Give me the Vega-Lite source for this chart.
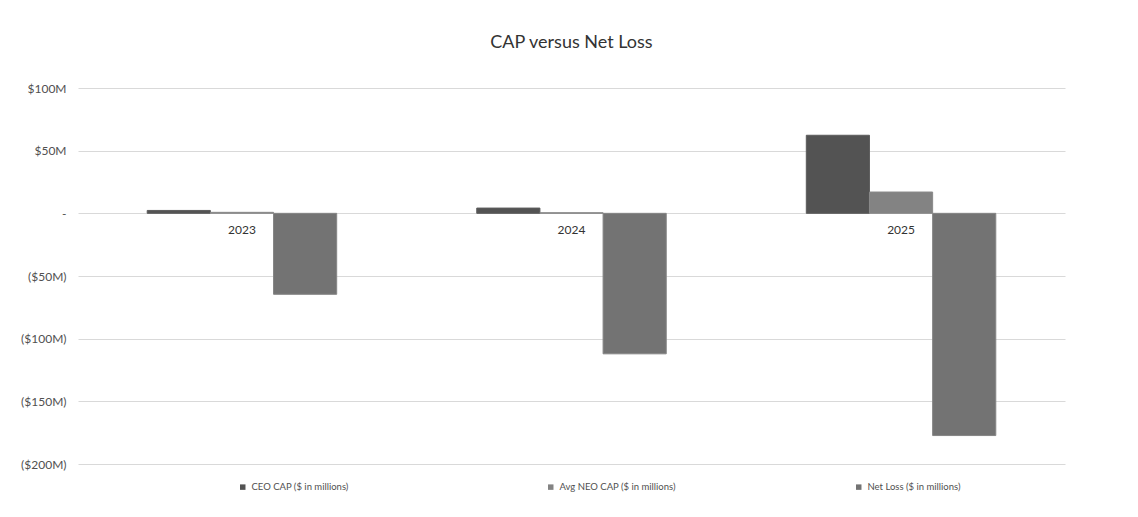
{
  "$schema": "https://vega.github.io/schema/vega-lite/v6.json",
  "autosize": {"type": "none"},
  "width": 987,
  "height": 376,
  "padding": {"left": 78, "top": 88, "right": 73, "bottom": 53},
  "background": "white",
  "config": {
    "font": "Lato",
    "view": {"stroke": null},
    "axis": {"labelFont": "Lato", "labelColor": "#505050"}
  },
  "title": {
    "text": "CAP versus Net Loss",
    "fontSize": 18,
    "fontWeight": "normal",
    "color": "#333333",
    "font": "Lato",
    "anchor": "middle",
    "offset": 30
  },
  "data": {
    "values": [
      {"year": "2023", "series": "CEO CAP ($ in millions)", "value": 2.3},
      {"year": "2023", "series": "Avg NEO CAP ($ in millions)", "value": 0.8},
      {"year": "2023", "series": "Net Loss ($ in millions)", "value": -64.6},
      {"year": "2024", "series": "CEO CAP ($ in millions)", "value": 4.2},
      {"year": "2024", "series": "Avg NEO CAP ($ in millions)", "value": 0.5},
      {"year": "2024", "series": "Net Loss ($ in millions)", "value": -112.1},
      {"year": "2025", "series": "CEO CAP ($ in millions)", "value": 62.3},
      {"year": "2025", "series": "Avg NEO CAP ($ in millions)", "value": 17.0},
      {"year": "2025", "series": "Net Loss ($ in millions)", "value": -177.3}
    ]
  },
  "encoding": {
    "x": {
      "field": "year",
      "type": "nominal",
      "axis": null,
      "scale": {"paddingInner": 0.425, "paddingOuter": 0.21}
    }
  },
  "layer": [
    {
      "mark": {"type": "bar", "strokeWidth": 1},
      "encoding": {
        "xOffset": {
          "field": "series",
          "type": "nominal",
          "sort": ["CEO CAP ($ in millions)", "Avg NEO CAP ($ in millions)", "Net Loss ($ in millions)"],
          "scale": {"paddingInner": 0, "paddingOuter": 0}
        },
        "y": {
          "field": "value",
          "type": "quantitative",
          "scale": {"domain": [-200, 100], "nice": false},
          "axis": {
            "title": null,
            "values": [-200, -150, -100, -50, 0, 50, 100],
            "labelExpr": "datum.value == 0 ? '-' : (datum.value > 0 ? '$' + datum.value + 'M' : '($' + (-datum.value) + 'M)')",
            "labelFontSize": 12,
            "labelPadding": 12,
            "ticks": false,
            "domain": false,
            "grid": true,
            "gridColor": "#d9d9d9",
            "gridWidth": 1
          }
        },
        "color": {
          "field": "series",
          "type": "nominal",
          "sort": ["CEO CAP ($ in millions)", "Avg NEO CAP ($ in millions)", "Net Loss ($ in millions)"],
          "scale": {
            "domain": ["CEO CAP ($ in millions)", "Avg NEO CAP ($ in millions)", "Net Loss ($ in millions)"],
            "range": ["#535353", "#838383", "#737373"]
          },
          "legend": {
            "title": null,
            "orient": "none",
            "direction": "horizontal",
            "legendX": 160,
            "legendY": 394,
            "symbolType": "square",
            "symbolSize": 30,
            "symbolStrokeWidth": 0,
            "labelFontSize": 9.5,
            "labelColor": "#505050",
            "labelOffset": 4,
            "gridAlign": "all",
            "columnPadding": 178
          }
        },
        "stroke": {
          "field": "series",
          "type": "nominal",
          "scale": {
            "domain": ["CEO CAP ($ in millions)", "Avg NEO CAP ($ in millions)", "Net Loss ($ in millions)"],
            "range": ["#5c5c5c", "#8a8a8a", "#858585"]
          },
          "legend": null
        }
      }
    },
    {
      "data": {"values": [{"year": "2023"}, {"year": "2024"}, {"year": "2025"}]},
      "mark": {"type": "text", "dy": 17, "fontSize": 12, "color": "#333333", "font": "Lato"},
      "encoding": {
        "y": {"datum": 0},
        "text": {"field": "year"}
      }
    }
  ]
}
